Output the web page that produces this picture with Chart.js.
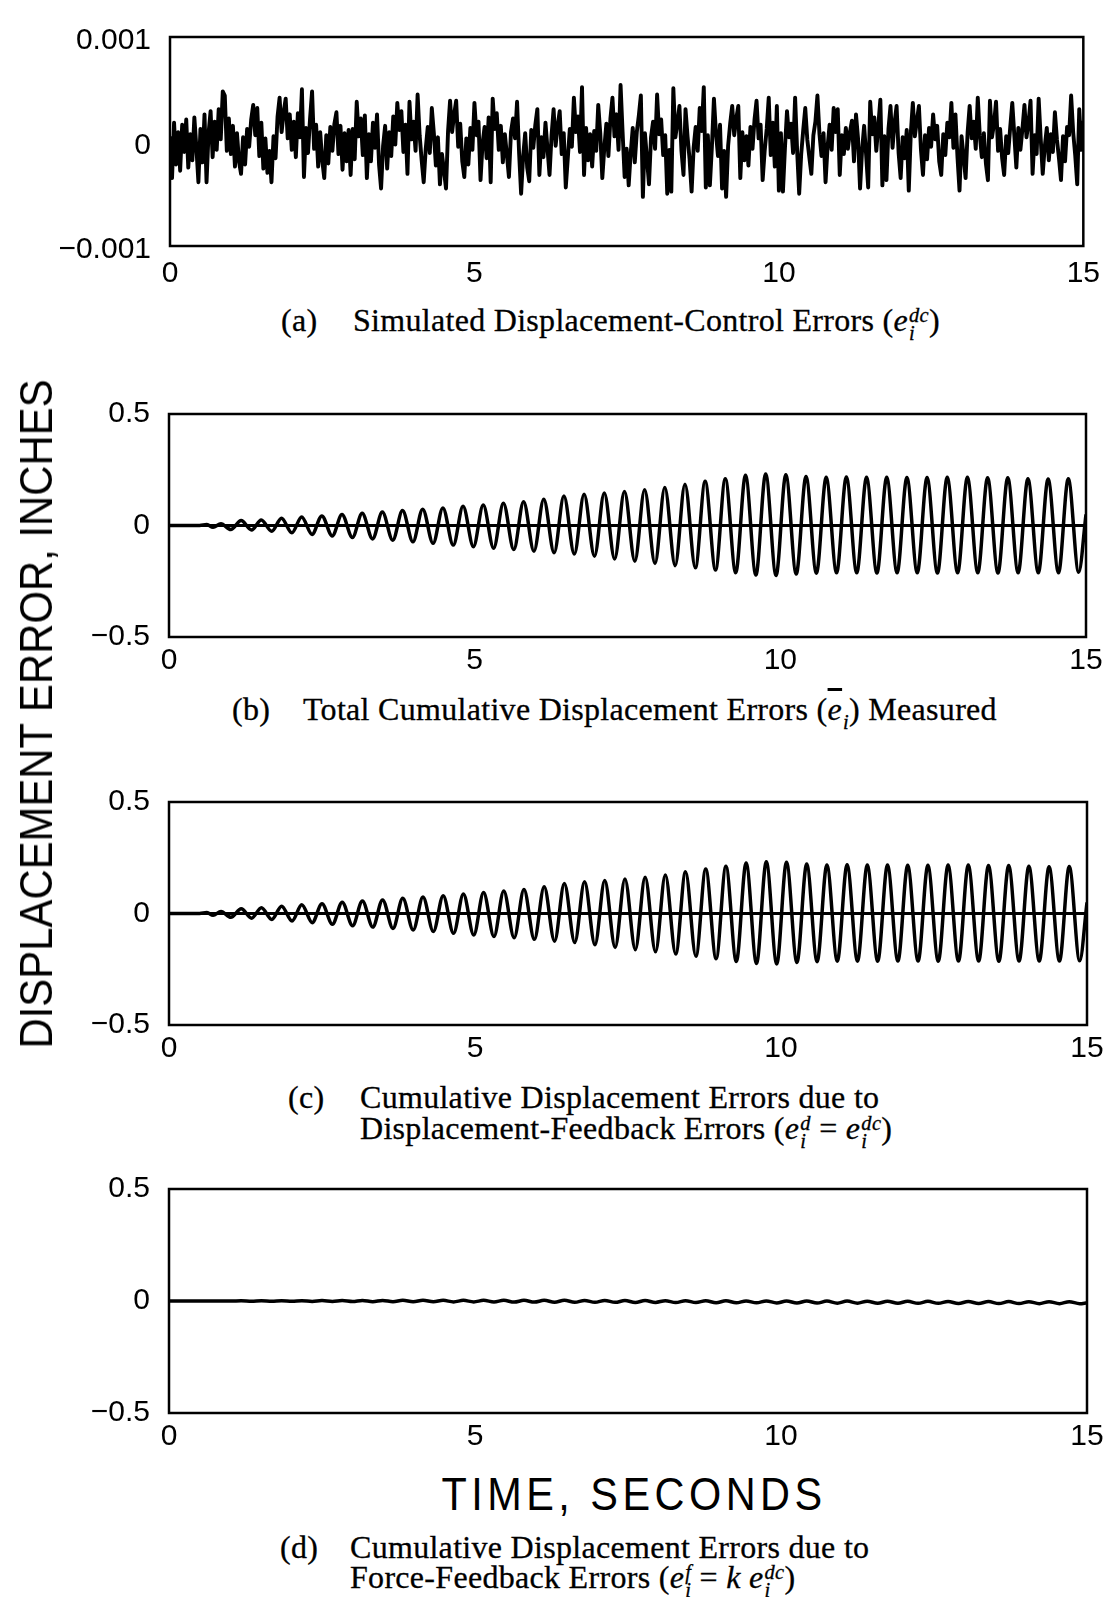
<!DOCTYPE html>
<html>
<head>
<meta charset="utf-8">
<script src="https://cdn.jsdelivr.net/npm/chart.js@4.4.1/dist/chart.umd.min.js"></script>
<style>
body { margin: 0; background: #fff; width: 1110px; height: 1597px; position: relative; overflow: hidden; }
canvas { position: absolute; left: 0; }
.cap { position: absolute; font-family: "Liberation Serif", "Times New Roman", serif; font-size: 32px; letter-spacing: 0.3px; line-height: 1; color: #000; white-space: nowrap; -webkit-text-stroke: 0.3px #000; }
.st { display: inline-block; font-size: 0.64em; line-height: 0.9; vertical-align: -0.45em; margin-left: 1px; }
.st i { display: block; }
.big { position: absolute; font-family: "Liberation Sans", Arial, sans-serif; font-size: 46px; line-height: 1; color: #000; white-space: nowrap; }
</style>
</head>
<body>
<canvas id="pa" width="1110" height="296"></canvas>
<canvas id="pb" width="1110" height="310"></canvas>
<canvas id="pc" width="1110" height="310"></canvas>
<canvas id="pd" width="1110" height="311"></canvas>

<div class="big" id="ytitle" style="left:36px;top:714px;transform:translate(-50%,-50%) rotate(-90deg) scaleX(0.91);">DISPLACEMENT ERROR, INCHES</div>
<div class="big" id="xtitle" style="left:634px;top:1494px;letter-spacing:5px;transform:translate(-50%,-50%) scaleX(0.9);">TIME, SECONDS</div>

<div class="cap" style="left:281px;top:304px">(a)</div>
<div class="cap" style="left:353px;top:304px">Simulated Displacement-Control Errors (<i>e</i><span class="st"><i>dc</i><i>i</i></span>)</div>

<div class="cap" style="left:232px;top:693px">(b)</div>
<div class="cap" style="left:303px;top:693px">Total Cumulative Displacement Errors (<i style="text-decoration:overline">e</i><span class="st"><i>&nbsp;</i><i>i</i></span>) Measured</div>

<div class="cap" style="left:288px;top:1081px">(c)</div>
<div class="cap" style="left:360px;top:1081px">Cumulative Displacement Errors due to</div>
<div class="cap" style="left:360px;top:1112px">Displacement-Feedback Errors (<i>e</i><span class="st"><i>d</i><i>i</i></span> = <i>e</i><span class="st"><i>dc</i><i>i</i></span>)</div>

<div class="cap" style="left:280px;top:1531px">(d)</div>
<div class="cap" style="left:350px;top:1531px">Cumulative Displacement Errors due to</div>
<div class="cap" style="left:350px;top:1561px">Force-Feedback Errors (<i>e</i><span class="st"><i>f</i><i>i</i></span> = <i>k</i> <i>e</i><span class="st"><i>dc</i><i>i</i></span>)</div>

<script>
// axis ticks
var xTicks = [0, 5, 10, 15];
var xTickLabels = ['0', '5', '10', '15'];
var yTicksA = [-0.001, 0, 0.001];
var yTickLabelsA = ['\u22120.001', '0', '0.001'];
var yTicksB = [-0.5, 0, 0.5];
var yTickLabelsB = ['\u22120.5', '0', '0.5'];

// (a) simulated displacement-control errors, sampled every 1/30 s, in units of 1e-4 in
var SAMPLE_DT = 1 / 30;
var ctrlErrE4 = [
  0.5, -3.5, 1.8, -2.2, 0.9, -2.8, 1.6, -1.0, 2.1, -2.5, 0.7, -1.8, 2.3, -0.6, -3.9, 1.2, -2.0, 2.6, -3.9, 0.8, 2.9, -1.5, 1.9, -0.8, 3.1, 0.2, 4.8, 4.4, -0.9, 2.2,
  -1.2, 1.5, -2.4, 0.8, -1.9, -3.1, 0.4, -2.2, 1.2, -0.5, 2.1, 3.5, 0.6, 3.2, -1.4, 1.8, -2.6, 0.3, -3.0, -0.9, -3.9, 0.5, -1.6, 2.4, 4.2, 0.9, 2.8, 4.1, 0.3, 2.6,
  -0.8, 1.9, -1.5, 2.7, 0.4, 5.0, -3.4, 1.3, -1.1, 2.2, 4.8, -0.7, 1.6, -2.4, 0.9, -1.8, -3.5, 0.6, -2.1, 1.4, -0.9, 1.7, 2.8, -1.2, 1.5, -2.7, 0.8, -1.9, 1.1, -3.2,
  1.2, -1.7, 3.8, 0.5, 2.2, -1.3, 2.5, -3.5, 0.7, -1.9, 1.8, -0.6, 2.6, -2.2, -4.5, -0.4, 1.5, -2.6, 0.9, -1.4, 2.4, -0.3, 3.7, 1.1, 2.9, -1.0, 1.6, -3.1, 3.8, 0.2,
  1.9, -0.9, 4.5, 0.6, -1.8, -3.9, -0.7, 1.4, -1.1, 3.2, 0.8, -2.3, 0.4, -4.1, -1.2, -2.8, -4.5, 1.0, 3.9, 0.9, 2.6, 3.9, -0.5, 1.7, -1.9, -3.4, 0.3, -2.2, 1.3, -0.8,
  3.7, 0.6, 1.9, -3.7, -0.2, 1.4, -1.6, 2.3, -3.9, 4.1, 1.2, 2.7, -0.8, 1.5, -2.0, 0.7, -1.3, -3.4, 0.9, 2.2, 0.3, 3.8, -1.1, -5.0, -1.4, 0.8, -2.5, -3.8, 1.1, -0.6,
  1.6, 3.1, -3.2, 0.4, -1.5, 1.8, -0.7, -3.2, 0.6, 3.1, -0.4, 1.5, 2.9, -1.2, 0.8, -4.4, -1.6, 1.2, -0.5, 4.2, 0.9, 2.4, -1.0, 5.2, -3.2, 1.3, -1.8, 0.7, -2.4, 1.0,
  -0.9, 3.5, 0.8, -3.5, -0.6, 1.7, -1.4, 2.2, 4.2, 0.5, 2.6, -0.8, 5.4, 0.9, -3.4, -0.7, -4.2, -1.1, 1.3, -2.0, 0.9, 2.5, 4.4, -5.3, 0.8, -1.6, -4.1, 0.4, 1.9, -0.7,
  4.5, 0.7, 2.1, -1.3, 0.6, -5.0, -0.8, -4.8, 5.1, 0.4, 1.8, 3.4, -0.9, -3.2, 3.1, 0.5, -1.7, -4.8, -0.6, 1.4, -0.9, 3.2, 1.0, 5.2, -4.4, 0.6, -4.2, -0.5, 4.1, 0.8,
  -1.4, 1.6, -4.5, -0.9, -5.3, -0.4, 1.7, 3.4, 0.6, 2.2, 3.4, -3.5, 0.9, -1.8, 0.5, -2.3, 1.4, -0.7, 2.1, 3.9, 0.3, 1.6, -3.7, -0.9, 1.2, 4.2, -1.3, 1.8, -2.4, 3.4,
  -4.7, 0.8, -4.8, -0.6, 2.9, 0.4, 1.7, -1.1, 4.2, -0.9, -5.0, -1.2, 1.1, 3.2, 0.2, -1.5, -3.1, 0.6, 1.9, 4.4, 0.7, -1.4, 0.8, -3.9, -0.5, 1.6, -0.8, 3.2, 0.9, 3.1,
  -3.2, 0.6, -1.2, 1.3, -0.7, 0.9, 2.0, -1.9, 2.6, 0.3, -4.5, -0.8, 1.5, -1.3, -4.4, 3.8, 0.7, 2.3, -0.9, 1.6, 4.0, -4.2, 0.5, -3.7, 1.2, 3.4, -0.6, 1.8, 3.4, -1.1,
  -3.5, 0.4, -1.6, 1.1, -4.7, 0.8, 3.7, 0.5, 2.0, 3.4, -0.8, -3.2, 0.6, -1.7, 1.3, -0.5, 2.6, 0.2, 1.5, -1.9, -3.2, 0.7, -1.3, 1.8, 0.4, 3.7, -0.6, 2.6, -1.5, -4.7,
  0.5, -1.4, -3.5, 0.9, 3.4, 0.3, 1.9, -0.7, 4.2, 0.6, -1.5, 0.8, -2.1, -3.7, 3.9, 0.4, 1.7, 3.8, -0.9, 1.2, -1.6, -3.2, 0.5, -1.1, 1.4, 3.7, 0.6, -2.5, 1.3, -0.8,
  1.2, 3.5, 0.4, 1.8, 3.9, -3.1, 0.6, -1.2, 4.1, 0.3, -3.1, -0.5, 1.3, -1.8, 0.7, -1.0, 2.8, 0.2, -1.6, -3.7, 0.5, -1.9, 1.4, 0.6, 4.4, 0.9, -1.3, -4.1, 3.1, -0.8, 2.0
];

// (b)-(d) times of the peaks and troughs of the response, seconds
var extremaTimes = [
  0, 0.50, 0.62, 0.72, 0.85, 1.01,
  1.18, 1.35, 1.51, 1.68, 1.84, 2.01, 2.17, 2.34, 2.50, 2.67,
  2.83, 3.00, 3.16, 3.33, 3.49, 3.66, 3.82, 3.99, 4.15, 4.32,
  4.48, 4.65, 4.81, 4.98, 5.14, 5.31, 5.47, 5.64, 5.80, 5.97,
  6.13, 6.30, 6.46, 6.63, 6.79, 6.96, 7.12, 7.29, 7.45, 7.62,
  7.78, 7.95, 8.11, 8.28, 8.44, 8.61, 8.77, 8.94, 9.10, 9.27,
  9.43, 9.60, 9.76, 9.93, 10.09, 10.26, 10.42, 10.59, 10.75, 10.92,
  11.08, 11.25, 11.41, 11.58, 11.74, 11.91, 12.07, 12.24, 12.40, 12.57,
  12.73, 12.90, 13.06, 13.23, 13.39, 13.56, 13.72, 13.89, 14.05, 14.22,
  14.38, 14.55, 14.71, 14.88,
  15.00
];

// (b) total cumulative displacement errors measured, inches
var totalErr = [
  0, 0, 0.004, -0.008, 0.008, -0.018,
  0.022, -0.020, 0.025, -0.026, 0.033, -0.033, 0.038, -0.040, 0.043, -0.047,
  0.049, -0.054, 0.055, -0.060, 0.060, -0.066, 0.067, -0.073, 0.073, -0.080,
  0.079, -0.088, 0.086, -0.095, 0.092, -0.102, 0.100, -0.108, 0.107, -0.115,
  0.118, -0.122, 0.132, -0.128, 0.140, -0.138, 0.146, -0.150, 0.153, -0.160,
  0.160, -0.170, 0.170, -0.180, 0.185, -0.190, 0.198, -0.200, 0.210, -0.212,
  0.225, -0.222, 0.231, -0.224, 0.228, -0.218, 0.220, -0.214, 0.216, -0.212,
  0.218, -0.212, 0.216, -0.213, 0.216, -0.212, 0.215, -0.212, 0.215, -0.213,
  0.216, -0.212, 0.216, -0.212, 0.214, -0.213, 0.214, -0.212, 0.210, -0.212,
  0.208, -0.212, 0.210, -0.210,
  0.050
];

// (c) errors due to displacement-feedback errors, inches
var dispFbErr = [
  0, 0, 0.004, -0.008, 0.009, -0.017,
  0.021, -0.021, 0.026, -0.027, 0.033, -0.034, 0.039, -0.041, 0.044, -0.048,
  0.050, -0.055, 0.056, -0.061, 0.061, -0.067, 0.068, -0.074, 0.074, -0.081,
  0.080, -0.089, 0.087, -0.096, 0.094, -0.103, 0.101, -0.109, 0.108, -0.116,
  0.120, -0.124, 0.134, -0.130, 0.142, -0.140, 0.148, -0.152, 0.155, -0.162,
  0.162, -0.172, 0.173, -0.182, 0.187, -0.192, 0.200, -0.203, 0.212, -0.215,
  0.227, -0.224, 0.232, -0.226, 0.230, -0.220, 0.222, -0.216, 0.218, -0.214,
  0.219, -0.214, 0.217, -0.214, 0.217, -0.213, 0.216, -0.213, 0.216, -0.214,
  0.217, -0.213, 0.217, -0.213, 0.215, -0.214, 0.215, -0.213, 0.212, -0.213,
  0.210, -0.213, 0.211, -0.212,
  0.050
];

// (d) errors due to force-feedback errors, inches
var forceFbErr = [
  0, 0, 0, 0, 0, 0,
  0.001, -0.001, 0.001, -0.001, 0.0015, -0.0015, 0.0015, -0.002, 0.002, -0.002,
  0.002, -0.0025, 0.0025, -0.003, 0.0025, -0.003, 0.003, -0.0035, 0.003, -0.0035,
  0.003, -0.004, 0.003, -0.004, 0.003, -0.0045, 0.003, -0.005, 0.003, -0.005,
  0.003, -0.0055, 0.003, -0.0055, 0.0025, -0.006, 0.0025, -0.006, 0.002, -0.0065,
  0.002, -0.0065, 0.0015, -0.007, 0.0015, -0.007, 0.001, -0.0075, 0.001, -0.008,
  0.0005, -0.008, 0.0005, -0.0085, 0, -0.009, 0, -0.009, -0.0005, -0.0095,
  -0.0005, -0.0095, -0.001, -0.010, -0.001, -0.010, -0.0015, -0.0105, -0.0015, -0.0105,
  -0.002, -0.011, -0.002, -0.011, -0.0025, -0.0115, -0.0025, -0.0115, -0.003, -0.012,
  -0.003, -0.012, -0.003, -0.012,
  -0.008
];

// zero reference line
var zeroX = [0, 15];
var zeroY = [0, 0];

Chart.defaults.font.family = "'Liberation Sans', Arial, sans-serif";
Chart.defaults.color = '#000';

// box round the plot area
var frame = {
  id: 'frame',
  afterDatasetsDraw: function (chart) {
    var a = chart.chartArea, c = chart.ctx;
    c.save();
    c.strokeStyle = '#000';
    c.lineWidth = 2.5;
    c.strokeRect(a.left, a.top, a.right - a.left, a.bottom - a.top);
    c.restore();
  }
};

function pts(xs, ys) {
  return xs.map(function (x, i) { return { x: x, y: ys[i] }; });
}

function panel(id, top, padTop, left, right, datasets, yMin, yMax, yTicks, yLabels, yOff, xPad) {
  var el = document.getElementById(id);
  el.style.top = (top - padTop) + 'px';
  return new Chart(el.getContext('2d'), {
    type: 'line',
    data: { datasets: datasets },
    options: {
      responsive: false,
      animation: false,
      events: [],
      layout: { padding: { top: padTop, right: 1110 - right, left: 0, bottom: 0 } },
      plugins: { legend: { display: false }, tooltip: { enabled: false } },
      elements: { point: { radius: 0 } },
      scales: {
        x: {
          type: 'linear', min: 0, max: 15,
          afterBuildTicks: function (s) { s.ticks = xTicks.map(function (v) { return { value: v }; }); },
          afterFit: function (s) { s.height = 50; },
          grid: { display: false, drawTicks: false },
          border: { display: false },
          ticks: {
            padding: xPad, maxRotation: 0, autoSkip: false, font: { size: 30 },
            callback: function (v, i) { return xTickLabels[i]; }
          }
        },
        y: {
          type: 'linear', min: yMin, max: yMax,
          afterBuildTicks: function (s) { s.ticks = yTicks.map(function (v) { return { value: v }; }); },
          afterFit: function (s) { s.width = left; },
          grid: { display: false, drawTicks: false },
          border: { display: false },
          ticks: {
            padding: 19, labelOffset: yOff, font: { size: 30 },
            callback: function (v, i) { return yLabels[i]; }
          }
        }
      }
    },
    plugins: [frame]
  });
}

// (a)
panel('pa', 15, 15, 170, 1088, [{
  data: ctrlErrE4.map(function (v, i) { return { x: i * SAMPLE_DT, y: v * 1e-4 }; }),
  borderColor: '#000', borderWidth: 3.9, borderJoinStyle: 'round', tension: 0
}], -0.001, 0.001, yTicksA, yTickLabelsA, 4, 10);

// (b)
panel('pb', 407, 30, 169, 1086, [
  { data: pts(zeroX, zeroY), borderColor: '#000', borderWidth: 3 },
  { data: pts(extremaTimes, totalErr), borderColor: '#000', borderWidth: 3.5, cubicInterpolationMode: 'monotone' }
], -0.5, 0.5, yTicksB, yTickLabelsB, 0, 6);

// (c)
panel('pc', 795, 30, 169, 1087, [
  { data: pts(zeroX, zeroY), borderColor: '#000', borderWidth: 3 },
  { data: pts(extremaTimes, dispFbErr), borderColor: '#000', borderWidth: 3.5, cubicInterpolationMode: 'monotone' }
], -0.5, 0.5, yTicksB, yTickLabelsB, 0, 6);

// (d)
panel('pd', 1182, 30, 169, 1087, [
  { data: pts(extremaTimes, forceFbErr), borderColor: '#000', borderWidth: 3.5, cubicInterpolationMode: 'monotone' }
], -0.5, 0.5, yTicksB, yTickLabelsB, 0, 6);
</script>
</body>
</html>
